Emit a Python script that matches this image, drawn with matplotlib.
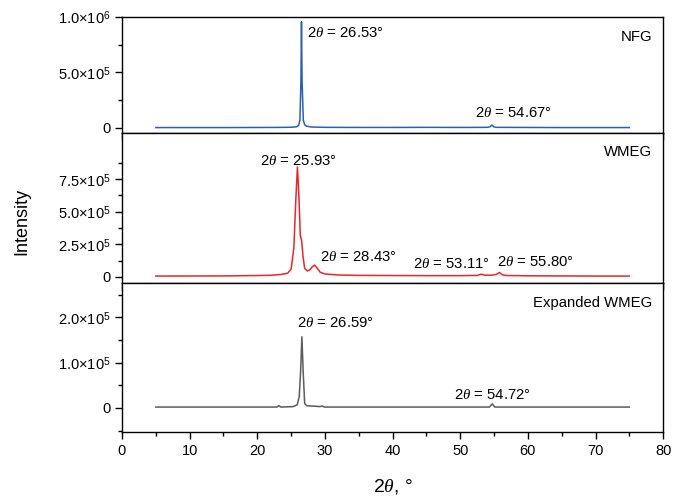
import numpy as np
import matplotlib
matplotlib.use('Agg')
import matplotlib.pyplot as plt

plt.rcParams['font.family'] = ['Liberation Sans', 'DejaVu Sans']
plt.rcParams['mathtext.fontset'] = 'custom'
plt.rcParams['mathtext.rm'] = 'Liberation Sans'
plt.rcParams['mathtext.it'] = 'Liberation Serif:italic'

# Patrones XRD leídos punto a punto (2theta en grados, intensidad en cuentas)
nfg_2t = [5, 15, 22, 24, 25, 25.8, 26.1, 26.3, 26.45, 26.53, 26.62, 26.8, 27.0, 27.3,
          28, 30, 35, 40, 45, 50, 54.0, 54.4, 54.67, 54.95, 55.3, 60, 65, 70, 75]
nfg_int = [3e3, 3e3, 4e3, 5e3, 6e3, 1.0e4, 2.2e4, 7.0e4, 4.2e5, 9.57e5, 4.2e5, 7.0e4, 2.8e4, 1.5e4,
           8e3, 5e3, 4e3, 4e3, 5e3, 4e3, 5e3, 1.0e4, 2.6e4, 1.0e4, 5e3, 4e3, 3e3, 3e3, 3e3]

wmeg_2t = [5, 15, 20, 22, 23.5, 24.5, 25.0, 25.4, 25.7, 25.93, 26.15, 26.35, 26.55, 26.75,
           27.0, 27.4, 27.8, 28.1, 28.43, 28.8, 29.3, 30, 32, 35, 40, 45, 50, 52.5, 53.11,
           53.6, 54.5, 55.3, 55.8, 56.3, 57, 60, 70, 75]
wmeg_int = [6e3, 7e3, 1.0e4, 1.2e4, 1.8e4, 2.8e4, 6.0e4, 2.2e5, 6.0e5, 8.44e5, 6.2e5, 3.2e5, 2.8e5, 1.6e5,
            6.5e4, 4.5e4, 5.5e4, 7.5e4, 9.0e4, 7.0e4, 3.5e4, 2.2e4, 1.4e4, 1.1e4, 1.0e4, 9e3, 9e3, 1.1e4, 2.0e4,
            1.3e4, 1.2e4, 1.8e4, 3.3e4, 1.4e4, 1.0e4, 8e3, 6e3, 6e3]

exp_2t = [5, 15, 20, 22.9, 23.2, 23.5, 25.3, 25.6, 25.9, 26.2, 26.4, 26.59, 26.78, 27.0,
          27.3, 29.3, 29.6, 29.9, 35, 40, 45, 50, 54.3, 54.72, 55.1, 60, 70, 75]
exp_int = [2e3, 2e3, 2e3, 2e3, 5e3, 2e3, 3e3, 5e3, 7e3, 2.5e4, 8.0e4, 1.57e5, 8.0e4, 1.0e4,
           5e3, 3e3, 4.5e3, 2e3, 2e3, 2e3, 2e3, 2e3, 2e3, 9e3, 2e3, 2e3, 2e3, 2e3]

# Picos etiquetados: (valor, x, y, alineación)
nfg_labels = [(26.53, 27.3, 8.56e5, 'left'), (54.67, 57.8, 1.35e5, 'center')]
wmeg_labels = [(25.93, 26.0, 8.9e5, 'center'), (28.43, 34.9, 1.5e5, 'center'),
               (53.11, 48.7, 0.95e5, 'center'), (55.80, 61.1, 1.13e5, 'center')]
exp_labels = [(26.59, 31.5, 1.87e5, 'center'), (54.72, 54.8, 0.29e5, 'center')]

paneles = [
    ('NFG', nfg_2t, nfg_int, '#2b5fb4', nfg_labels, (-0.045e6, 1.0e6),
     [0, 5e5, 1e6], ['0', r'5.0$\times$10$^{5}$', r'1.0$\times$10$^{6}$'], [2.5e5, 7.5e5], 8.2e5),
    ('WMEG', wmeg_2t, wmeg_int, '#e8262b', wmeg_labels, (-0.046e6, 1.105e6),
     [0, 2.5e5, 5e5, 7.5e5], ['0', r'2.5$\times$10$^{5}$', r'5.0$\times$10$^{5}$', r'7.5$\times$10$^{5}$'],
     [1.25e5, 3.75e5, 6.25e5, 8.75e5], 9.55e5),
    ('Expanded WMEG', exp_2t, exp_int, '#5a5a5a', exp_labels, (-0.525e5, 2.76e5),
     [0, 1e5, 2e5], ['0', r'1.0$\times$10$^{5}$', r'2.0$\times$10$^{5}$'], [-0.5e5, 0.5e5, 1.5e5, 2.5e5], 2.31e5),
]

fig, axs = plt.subplots(3, 1, figsize=(6.74, 4.98), dpi=100, sharex=True,
                        gridspec_kw={'height_ratios': [116, 150, 149], 'hspace': 0})
fig.subplots_adjust(left=0.181, right=0.984, top=0.966, bottom=0.133)

for ax, (nombre, x, y, color, etiquetas, ylim, yt, ytl, ymin, ynombre) in zip(axs, paneles):
    ax.plot(x, y, color=color, lw=1.1)
    ax.set_ylim(*ylim)
    ax.set_yticks(yt)
    ax.set_yticklabels(ytl)
    ax.set_yticks(ymin, minor=True)
    for pico, tx, ty, ha in etiquetas:
        ax.text(tx, ty, r'2$\theta$ = %.2f°' % pico, ha=ha, va='center', fontsize=10.7)
    ax.text(78.4, ynombre, nombre, ha='right', va='center', fontsize=10.7)
    ax.tick_params(axis='both', which='major', direction='out', length=5, width=1, labelsize=10.5)
    ax.tick_params(axis='both', which='minor', direction='out', length=3, width=1)
    ax.tick_params(axis='x', which='both', top=False)
    ax.tick_params(axis='y', which='both', right=False)
    for s in ax.spines.values():
        s.set_linewidth(1.0)

axs[-1].set_xlim(0, 80)
axs[-1].set_xticks(np.arange(0, 81, 10))
axs[-1].set_xticks(np.arange(5, 80, 10), minor=True)
axs[-1].set_xlabel(r'2$\theta$, °', fontsize=14, labelpad=14)
fig.text(0.033, 0.556, 'Intensity', rotation=90, ha='center', va='center', fontsize=13)

plt.savefig('out.png', dpi=100)
